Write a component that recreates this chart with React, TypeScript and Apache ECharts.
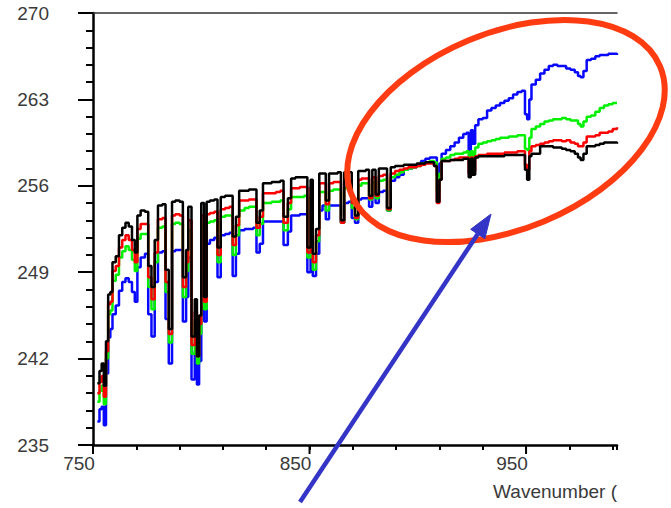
import React, { useEffect, useRef } from "react";
import * as echarts from "echarts";

// Wavenumber grid (cm-1)
const wavenumber = [
  752, 753, 754, 755, 756, 757, 758, 759, 760.5, 762,
  763.5, 765, 766.5, 768, 769.3, 770.5, 772, 774, 775.5, 777,
  778.5, 780, 782, 783.5, 785, 786.5, 788, 790, 791.5, 793,
  794, 795.5, 797, 798, 799, 800, 801.3, 802.5, 804, 806,
  807.5, 809, 811, 813, 814.5, 816, 817.5, 820, 822, 824,
  825.5, 827, 828.5, 830.5, 832.5, 834.5, 836.5, 838, 840, 841.5,
  843.5, 845.5, 847.5, 849, 850.5, 851.5, 853, 854.5, 856, 857.5,
  859, 861, 863, 864.5, 866, 868, 869.5, 871, 872.5, 874,
  876, 877.5, 879, 880.5, 882, 884, 885.8, 887.5, 889.5, 891.5,
  893.5, 895.5, 897.5, 899.5, 901.5, 903.5, 905.5, 907.5, 908.8, 910,
  911, 913, 915, 917, 919, 921, 922.5, 923.5, 924.5, 925.5,
  926.5, 928, 930, 932, 934, 936, 938, 940, 942, 944,
  946, 948, 949.5, 950.5, 951.5, 952.5, 954.5, 956.5, 958.5, 960.5,
  962.5, 964.5, 966.5, 968.5, 970.5, 972.5, 974, 975.2, 976.5, 978,
  980, 982, 984, 986, 988, 990, 992,
];

const blackValues = [
  240.0, 241.0, 241.6, 239.8, 243.4, 247.2, 247.4, 249.8, 250.3, 252.0,
  252.6, 253.0, 252.7, 251.6, 250.6, 253.6, 254.0, 253.9, 249.5, 247.8,
  251.6, 254.4, 254.5, 249.2, 244.4, 254.7, 254.8, 254.7, 248.6, 250.8,
  254.3, 243.8, 246.8, 242.2, 245.5, 254.6, 247.0, 254.7, 254.8, 254.9,
  251.0, 255.1, 255.2, 255.2, 251.9, 253.5, 255.6, 255.6, 255.7, 255.7,
  253.0, 254.0, 256.2, 256.2, 256.3, 256.3, 256.4, 253.5, 255.0, 256.6,
  256.7, 256.7, 256.7, 251.0, 256.5, 250.5, 252.5, 257.0, 257.0, 254.8,
  257.0, 257.0, 257.1, 253.2, 257.1, 257.1, 255.0, 253.6, 257.2, 257.2,
  257.3, 255.2, 257.3, 255.3, 257.4, 257.4, 254.2, 257.5, 257.6, 257.6,
  257.7, 257.7, 257.7, 257.8, 257.8, 257.9, 257.9, 257.6, 254.7, 256.5,
  258.0, 258.0, 258.1, 258.1, 258.1, 258.2, 258.2, 256.7, 258.2, 256.9,
  258.3, 258.4, 258.4, 258.4, 258.4, 258.4, 258.4, 258.5, 258.5, 258.5,
  258.5, 258.5, 257.3, 256.5, 258.4, 258.6, 258.6, 259.2, 259.2, 259.2,
  259.1, 259.1, 259.0, 258.9, 258.8, 258.6, 258.3, 258.1, 258.6, 259.2,
  259.2, 259.3, 259.4, 259.5, 259.5, 259.5, 259.4,
];

const redValues = [
  239.2, 240.1, 240.6, 238.9, 242.6, 246.4, 246.6, 249.1, 249.5, 251.0,
  251.6, 252.0, 251.6, 250.8, 249.8, 252.5, 252.9, 252.9, 248.6, 246.8,
  250.6, 253.3, 253.4, 248.2, 244.0, 253.6, 253.7, 253.6, 247.8, 249.8,
  253.2, 243.1, 245.8, 242.2, 244.8, 253.6, 246.6, 253.7, 253.8, 253.9,
  250.4, 254.1, 254.2, 254.3, 251.2, 252.8, 254.8, 254.8, 254.9, 254.9,
  252.6, 253.5, 255.4, 255.4, 255.4, 255.5, 255.6, 253.0, 254.6, 255.8,
  255.8, 255.9, 255.9, 250.6, 255.9, 249.8, 252.0, 256.2, 256.2, 254.5,
  256.2, 256.3, 256.3, 253.0, 256.4, 256.4, 254.6, 253.4, 256.5, 256.6,
  256.6, 255.0, 256.7, 255.2, 256.8, 256.9, 254.1, 257.0, 257.2, 257.3,
  257.4, 257.5, 257.5, 257.6, 257.7, 257.8, 257.8, 257.6, 254.6, 256.5,
  258.0, 258.0, 258.1, 258.2, 258.3, 258.3, 258.3, 257.0, 258.3, 257.2,
  258.4, 258.5, 258.5, 258.6, 258.6, 258.6, 258.6, 258.7, 258.7, 258.7,
  258.8, 258.8, 257.7, 257.3, 258.8, 259.2, 259.3, 259.4, 259.5, 259.6,
  259.7, 259.7, 259.6, 259.7, 259.5, 259.4, 259.2, 259.2, 259.5, 260.0,
  260.0, 260.1, 260.3, 260.3, 260.4, 260.6, 260.75,
];

const greenValues = [
  238.5, 239.4, 239.8, 238.3, 242.0, 245.6, 245.9, 248.3, 248.8, 250.2,
  250.7, 251.1, 250.8, 250.0, 249.1, 251.7, 252.1, 252.1, 247.8, 246.0,
  249.8, 252.6, 252.7, 247.4, 243.3, 252.9, 253.0, 252.9, 247.0, 249.1,
  252.4, 242.4, 245.0, 241.6, 244.0, 252.9, 246.0, 253.0, 253.1, 253.2,
  249.8, 253.5, 253.6, 253.6, 250.4, 252.0, 254.0, 254.2, 254.3, 254.3,
  252.0, 252.9, 254.6, 254.6, 254.7, 254.7, 254.8, 252.4, 254.1, 255.1,
  255.1, 255.1, 255.2, 250.2, 255.2, 249.2, 251.5, 255.5, 255.5, 254.0,
  255.6, 255.7, 255.7, 253.0, 255.8, 255.9, 254.2, 253.3, 256.0, 256.2,
  256.2, 254.9, 256.3, 255.0, 256.4, 256.5, 254.0, 256.7, 256.9, 257.1,
  257.3, 257.4, 257.5, 257.6, 257.8, 257.9, 258.0, 257.9, 255.6, 257.0,
  258.2, 258.3, 258.5, 258.6, 258.6, 258.7, 258.8, 258.3, 258.8, 258.4,
  259.1, 259.4, 259.5, 259.6, 259.7, 259.8, 259.9, 259.9, 260.0, 260.0,
  260.1, 260.1, 259.0, 258.9, 259.9, 260.6, 260.8, 261.0, 261.2, 261.3,
  261.4, 261.4, 261.5, 261.4, 261.3, 261.3, 261.0, 260.8, 261.2, 261.6,
  261.7, 262.0, 262.3, 262.5, 262.6, 262.7, 262.7,
];

const blueValues = [
  236.9, 237.9, 238.1, 236.6, 240.8, 243.7, 244.4, 245.6, 246.3, 247.5,
  248.2, 248.5, 248.2, 247.4, 246.6, 249.4, 250.2, 250.5, 245.6, 243.8,
  248.2, 250.6, 250.7, 245.2, 241.6, 250.7, 250.8, 250.8, 245.0, 247.0,
  250.2, 240.3, 242.6, 239.9, 241.8, 250.9, 245.0, 251.3, 251.6, 251.8,
  248.6, 252.0, 252.1, 252.2, 248.7, 250.5, 252.4, 252.5, 252.5, 252.6,
  250.6, 251.3, 253.1, 253.1, 253.1, 253.1, 253.1, 251.2, 252.3, 253.6,
  253.6, 253.7, 253.7, 249.0, 253.8, 248.7, 250.5, 254.0, 254.4, 253.3,
  254.4, 254.4, 254.4, 253.0, 254.6, 254.7, 253.4, 253.0, 254.9, 255.0,
  255.0, 254.3, 255.2, 254.6, 255.5, 255.6, 254.0, 256.4, 256.7, 256.9,
  257.3, 257.4, 257.5, 257.7, 258.0, 258.2, 258.3, 258.3, 256.8, 257.8,
  258.6, 258.9, 259.2, 259.5, 259.9, 260.2, 260.3, 258.9, 260.5, 259.4,
  260.9, 261.4, 261.5, 262.1, 262.3, 262.5, 262.7, 262.9, 263.1, 263.4,
  263.6, 263.7, 261.8, 261.4, 263.0, 264.2, 264.6, 265.1, 265.4, 265.7,
  265.8, 265.7, 265.7, 265.5, 265.4, 265.2, 264.9, 264.8, 265.3, 266.2,
  266.3, 266.5, 266.6, 266.6, 266.7, 266.7, 266.6,
];

// Axes
const xMin = 750;
const xMax = 992;
const xTickInterval = 20;
const xMajorTicks = [750, 850, 950];
const yMin = 235;
const yMax = 270;
const yInterval = 7;
const xAxisTitle = "Wavenumber (";

const FONT = '"Liberation Sans", Arial, sans-serif';
const LABEL_COLOR = "#3a3a3a";

export default function App() {
  const ref = useRef<HTMLDivElement>(null);

  useEffect(() => {
    if (!ref.current) return;
    const chart = echarts.init(ref.current, undefined, { renderer: "svg" });

    const mk = (vals: number[]) => wavenumber.map((w, i) => [w, vals[i]]);
    const lineSeries = (name: string, vals: number[], color: string) => ({
      name,
      type: "line",
      step: "end",
      data: mk(vals),
      showSymbol: false,
      symbol: "none",
      silent: true,
      xAxisIndex: 0,
      yAxisIndex: 0,
      lineStyle: { color, width: 2.5 },
      itemStyle: { color },
    });

    // arrow geometry (annotation)
    const tip = [491, 214];
    const tail = [300, 502];
    const dx = tip[0] - tail[0];
    const dy = tip[1] - tail[1];
    const len = Math.sqrt(dx * dx + dy * dy);
    const ux = dx / len;
    const uy = dy / len;
    const headLen = 24;
    const headHalf = 8.5;
    const bx = tip[0] - ux * headLen;
    const by = tip[1] - uy * headLen;
    const px = -uy;
    const py = ux;

    const annotations: any[] = [
      {
        type: "text",
        right: 54,
        top: 482,
        z: 100,
        style: {
          text: xAxisTitle,
          fontSize: 19,
          fontFamily: FONT,
          fill: LABEL_COLOR,
        },
      },
      {
        type: "ellipse",
        x: 506,
        y: 131,
        rotation: (22.7 * Math.PI) / 180,
        z: 100,
        shape: { cx: 0, cy: 0, rx: 167, ry: 98 },
        style: { fill: "none", stroke: "#ff3b12", lineWidth: 6 },
      },
      {
        type: "line",
        z: 100,
        shape: { x1: tail[0], y1: tail[1], x2: bx, y2: by },
        style: { stroke: "#3434c6", lineWidth: 4.5 },
      },
      {
        type: "polygon",
        z: 100,
        shape: {
          points: [
            [tip[0], tip[1]],
            [bx + px * headHalf, by + py * headHalf],
            [bx - px * headHalf, by - py * headHalf],
          ],
        },
        style: { fill: "#3434c6", stroke: "#3434c6", lineWidth: 1 },
      },
    ];

    chart.setOption({
      animation: false,
      backgroundColor: "#ffffff",
      grid: {
        left: 93,
        right: 54,
        top: 13,
        bottom: 63,
        containLabel: false,
        outerBoundsMode: "none",
      },
      xAxis: [
        {
          type: "value",
          min: xMin,
          max: xMax,
          interval: xTickInterval,
          position: "bottom",
          axisLine: { show: true, onZero: false, lineStyle: { color: "#000", width: 2.5 } },
          axisTick: { show: true, length: 5, lineStyle: { color: "#000", width: 2 } },
          axisLabel: {
            show: true,
            customValues: xMajorTicks,
            fontSize: 19,
            fontFamily: FONT,
            color: LABEL_COLOR,
            margin: 9,
            padding: [0, 28, 0, 0],
          },
          splitLine: { show: false },
        },
        {
          type: "value",
          min: xMin,
          max: xMax,
          position: "top",
          axisLine: { show: true, onZero: false, lineStyle: { color: "#333", width: 1.5 } },
          axisTick: { show: false },
          axisLabel: { show: false },
          splitLine: { show: false },
        },
      ],
      yAxis: {
        type: "value",
        min: yMin,
        max: yMax,
        interval: yInterval,
        position: "left",
        axisLine: { show: true, onZero: false, lineStyle: { color: "#000", width: 2.5 } },
        axisTick: { show: true, length: 15, lineStyle: { color: "#000", width: 2 } },
        minorTick: { show: true, splitNumber: 5, length: 7, lineStyle: { color: "#000", width: 2 } },
        axisLabel: {
          fontSize: 19,
          fontFamily: FONT,
          color: LABEL_COLOR,
          margin: 44,
        },
        splitLine: { show: false },
        minorSplitLine: { show: false },
      },
      series: [
        lineSeries("blue", blueValues, "#0808ff"),
        lineSeries("green", greenValues, "#00f000"),
        lineSeries("red", redValues, "#ff0000"),
        lineSeries("black", blackValues, "#000000"),
      ],
      graphic: annotations,
    });

    // longer major x ticks, positioned through the axis scale
    const baseY = chart.convertToPixel({ yAxisIndex: 0 }, yMin) as number;
    const majorTickEls = xMajorTicks.map((v) => {
      const x = chart.convertToPixel({ xAxisIndex: 0 }, v) as number;
      return {
        type: "rect",
        z: 50,
        shape: { x: x - 1, y: baseY, width: 2, height: 9 },
        style: { fill: "#000" },
      };
    });
    chart.setOption({ graphic: [...annotations, ...majorTickEls] });

    return () => chart.dispose();
  }, []);

  return (
    <div
      ref={ref}
      style={{ position: "absolute", left: 0, top: 0, width: 671, height: 508 }}
    />
  );
}
